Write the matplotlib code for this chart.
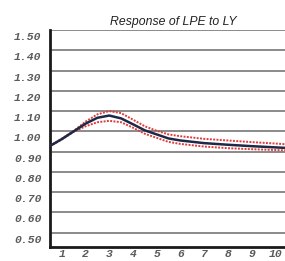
import matplotlib
matplotlib.use("Agg")
import matplotlib.pyplot as plt
from matplotlib.transforms import ScaledTranslation

# Data
periods = [0.5, 1, 1.5, 2, 2.5, 3, 3.5, 4, 4.5, 5, 5.5, 6, 7, 8, 9, 10, 10.5]
response = [0.928, 0.962, 1.000, 1.038, 1.067, 1.078, 1.064, 1.035, 1.005, 0.985,
            0.965, 0.955, 0.942, 0.934, 0.927, 0.921, 0.918]
upper = [0.928, 0.964, 1.002, 1.048, 1.084, 1.100, 1.090, 1.058, 1.025, 1.003,
         0.985, 0.976, 0.963, 0.955, 0.947, 0.940, 0.936]
lower = [0.928, 0.960, 0.998, 1.025, 1.045, 1.052, 1.045, 1.018, 0.988, 0.968,
         0.948, 0.938, 0.925, 0.917, 0.912, 0.908, 0.906]
x_ticks = [1, 2, 3, 4, 5, 6, 7, 8, 9, 10]
x_labels = [str(v) for v in x_ticks]
y_ticks = [0.5, 0.6, 0.7, 0.8, 0.9, 1.0, 1.1, 1.2, 1.3, 1.4, 1.5]
y_labels = ["%.2f" % v for v in y_ticks]
title = "Response of LPE to LY"

fig = plt.figure(figsize=(2.85, 2.61), dpi=100)
ax = fig.add_axes([50 / 285, 1 - 246.7 / 261, 237 / 285, (246.7 - 30) / 261])

ax.plot(periods, upper, color="#e03a3a", lw=1.4, ls=(0, (1, 0.7)), zorder=3)
ax.plot(periods, lower, color="#e03a3a", lw=1.4, ls=(0, (1, 0.7)), zorder=3)
ax.plot(periods, response, color="#1c2a48", lw=1.8, zorder=4)

ax.set_xlim(0.5, 10.5)
ax.set_ylim(0.431, 1.5)
ax.set_yticks(y_ticks)
ax.set_yticklabels(y_labels)
ax.set_xticks(x_ticks)
ax.set_xticklabels(x_labels)

for y in y_ticks:
    ax.axhline(y, color="#8a8a8a", lw=1.4, zorder=1)

for s in ["top", "right"]:
    ax.spines[s].set_visible(False)
for s in ["left", "bottom"]:
    ax.spines[s].set_color("#1a1a1a")
    ax.spines[s].set_linewidth(2.0)

ax.tick_params(axis="both", length=0, labelcolor="#5a5a5a")
ax.tick_params(axis="y", pad=6)
ax.tick_params(axis="x", pad=2)
for lab in ax.get_yticklabels() + ax.get_xticklabels():
    lab.set_fontfamily("Liberation Mono")
    lab.set_fontstyle("italic")
    lab.set_fontweight("bold")
    lab.set_fontsize(8.2)
off = ScaledTranslation(0, -6 / 100, fig.dpi_scale_trans)
for lab in ax.get_yticklabels():
    lab.set_transform(lab.get_transform() + off)

fig.text(173 / 285, 1 - 22 / 261, title, ha="center", va="center",
         fontsize=8.8, fontstyle="italic", family="Liberation Sans", color="#222222")

fig.savefig("out.png", dpi=100)
